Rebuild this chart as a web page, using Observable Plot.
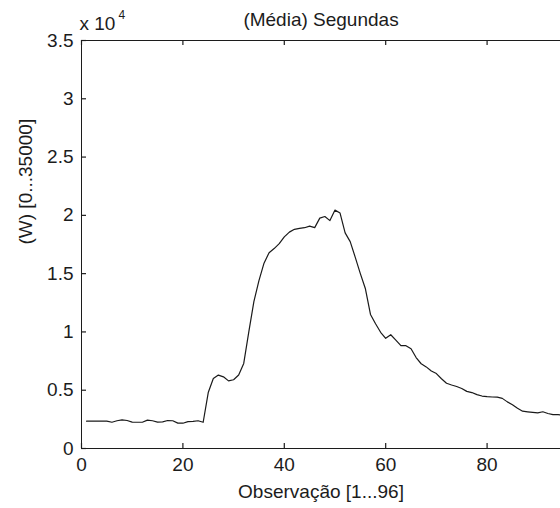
<!DOCTYPE html>
<html>
<head>
<meta charset="utf-8">
<script src="https://cdn.jsdelivr.net/npm/d3@7"></script>
<script src="https://cdn.jsdelivr.net/npm/@observablehq/plot@0.6"></script>
<style>
  html, body { margin: 0; padding: 0; background: #fff; }
  svg { display: block; }
</style>
</head>
<body>
<div id="chart"></div>
<script>
const observacao = d3.range(1, 97);
const potencia = [
  2340, 2350, 2350, 2350, 2350, 2250, 2380, 2450, 2400, 2260,
  2250, 2250, 2430, 2380, 2260, 2280, 2400, 2380, 2180, 2170,
  2300, 2330, 2380, 2250, 4800, 6000, 6300, 6150, 5800, 5900,
  6300, 7300, 10000, 12600, 14400, 15900, 16800, 17150, 17570, 18150,
  18560, 18800, 18880, 18940, 19080, 18950, 19760, 19900, 19550, 20450,
  20200, 18500, 17750, 16400, 15000, 13700, 11500, 10700, 9970, 9450,
  9760, 9300, 8830, 8820, 8560, 7800, 7270, 7000, 6650, 6430,
  5980, 5600, 5450, 5320, 5150, 4900, 4800, 4620, 4500, 4450,
  4420, 4400, 4300, 4000, 3750, 3450, 3200, 3150, 3100, 3050,
  3150, 3000, 2900, 2900, 2880, 2850
];
const xTicks = [0, 20, 40, 60, 80];
const yTicks = [0, 5000, 10000, 15000, 20000, 25000, 30000, 35000];
const yTickLabels = ["0", "0.5", "1", "1.5", "2", "2.5", "3", "3.5"];
const xDomain = [0, 94.48];
const yDomain = [0, 35000];
const titleText = "(Média) Segundas";
const xLabelText = "Observação [1...96]";
const yLabelText = "(W) [0...35000]";
const exponentBase = "x 10";
const exponentPower = "4";

const data = observacao.map((o, i) => ({x: o, y: potencia[i]}));
const ink = "#1c1c1c";

const W = 560, H = 508, mL = 81, mR = 0, mT = 40, mB = 60;
const frameW = W - mL - mR, frameH = H - mT - mB;
const tickLen = 5;
// tick length expressed in data units of each scale
const yTickSpan = tickLen * (yDomain[1] - yDomain[0]) / frameH;
const xTickSpan = tickLen * (xDomain[1] - xDomain[0]) / frameW;

const chart = Plot.plot({
  width: W,
  height: H,
  marginLeft: mL,
  marginRight: mR,
  marginTop: mT,
  marginBottom: mB,
  style: {fontFamily: "'Liberation Sans', Arial, sans-serif", fontSize: "19px", color: ink, background: "#fff"},
  x: {domain: xDomain},
  y: {domain: yDomain},
  marks: [
    Plot.ruleX([xDomain[0]], {stroke: ink}),
    Plot.ruleY([yDomain[0], yDomain[1]], {stroke: ink}),
    // inward ticks (MATLAB style)
    Plot.ruleX(xTicks, {x: (d) => d, y1: yDomain[0], y2: yDomain[0] + yTickSpan, stroke: ink, strokeWidth: 1.2}),
    Plot.ruleX(xTicks, {x: (d) => d, y1: yDomain[1] - yTickSpan, y2: yDomain[1], stroke: ink, strokeWidth: 1.2}),
    Plot.ruleY(yTicks, {y: (d) => d, x1: xDomain[0], x2: xDomain[0] + xTickSpan, stroke: ink, strokeWidth: 1.2}),
    // tick labels
    Plot.axisX(xTicks, {anchor: "bottom", tickSize: 0, tickPadding: 9, label: null, fill: ink}),
    Plot.axisY(yTicks, {anchor: "left", tickSize: 0, tickPadding: 8, tickFormat: (d) => yTickLabels[yTicks.indexOf(d)], label: null, fill: ink}),
    Plot.line(data, {x: "x", y: "y", stroke: "#1a1a1a", strokeWidth: 1.2, clip: true}),
    Plot.text([titleText], {frameAnchor: "top", lineAnchor: "bottom", dy: -15, fill: ink, fontSize: 19}),
    Plot.text([xLabelText], {frameAnchor: "bottom", lineAnchor: "bottom", dy: 49, fill: ink, fontSize: 19}),
    Plot.text([yLabelText], {frameAnchor: "left", lineAnchor: "bottom", rotate: -90, dx: -50, fill: ink, fontSize: 19}),
    Plot.text([exponentBase], {frameAnchor: "top-left", textAnchor: "start", lineAnchor: "bottom", dx: -2, dy: -11, fill: ink, fontSize: 19}),
    Plot.text([exponentPower], {frameAnchor: "top-left", textAnchor: "start", lineAnchor: "bottom", dx: 37, dy: -22, fill: ink, fontSize: 12})
  ]
});
document.getElementById("chart").appendChild(chart);
</script>
</body>
</html>
